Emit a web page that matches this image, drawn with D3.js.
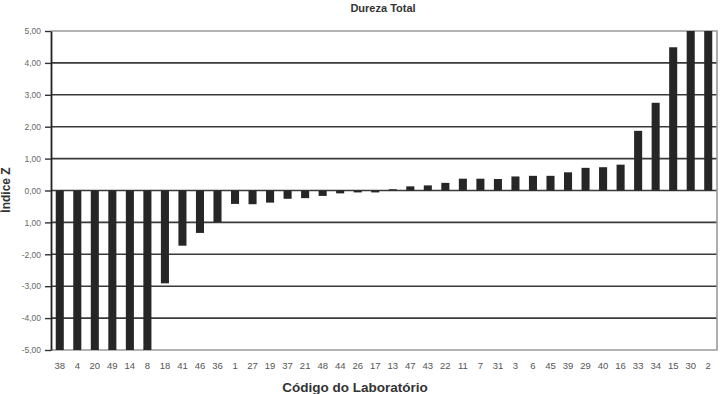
<!DOCTYPE html>
<html><head><meta charset="utf-8">
<script src="https://cdn.jsdelivr.net/npm/d3@7"></script>
<style>body{margin:0;background:#fff}svg{display:block}</style>
</head><body>
<svg id="c" width="720" height="394"></svg>
<script>
const labs = ["38","4","20","49","14","8","18","41","46","36","1","27","19","37","21","48","44","26","17","13","47","43","22","11","7","31","3","6","45","39","29","40","16","33","34","15","30","2"];
const zValues = [-5,-5,-5,-5,-5,-5,-2.91,-1.73,-1.33,-0.99,-0.42,-0.43,-0.38,-0.26,-0.24,-0.17,-0.09,-0.06,-0.06,0.04,0.13,0.16,0.24,0.37,0.37,0.36,0.44,0.46,0.46,0.57,0.71,0.73,0.81,1.87,2.75,4.49,5,5];
const yTickValues = [5,4,3,2,1,0,-1,-2,-3,-4,-5];
const yTickLabels = ["5,00","4,00","3,00","2,00","1,00","0,00","1,00","-2,00","-3,00","-4,00","-5,00"];
const title = "Dureza Total";
const xTitle = "Código do Laboratório";
const yTitle = "Índice Z";

const svg = d3.select("#c");
const L = 51, R = 717, T = 31, B = 350;
const x = d3.scaleBand().domain(labs).range([L, R]).paddingInner(0.54).paddingOuter(0.27);
const y = d3.scaleLinear().domain([-5, 5]).range([B, T]).clamp(true);

// gridlines
svg.append("g").selectAll("line").data(yTickValues.filter(v => v !== 5 && v !== -5)).join("line")
  .attr("x1", L).attr("x2", R).attr("y1", d => y(d)).attr("y2", d => y(d))
  .attr("stroke", "#3a3a3a").attr("stroke-width", 1.6);
// border top/right/bottom
svg.append("path")
  .attr("d", `M${L},${y(5)}H${R}V${y(-5)}H${L}`)
  .attr("fill", "none").attr("stroke", "#9a9a9a").attr("stroke-width", 1.6);

// bars
svg.append("g").selectAll("rect").data(zValues).join("rect")
  .attr("x", (d, i) => x(labs[i]))
  .attr("width", x.bandwidth())
  .attr("y", d => Math.min(y(d), y(0)))
  .attr("height", d => Math.abs(y(d) - y(0)))
  .attr("fill", "#262626");

// y axis
const yAxis = d3.axisLeft(y).tickValues(yTickValues)
  .tickFormat((d, i) => yTickLabels[i]).tickSize(6).tickSizeOuter(0);
const ga = svg.append("g").attr("transform", `translate(${L},0)`).call(yAxis);
ga.select(".domain").attr("stroke", "#222").attr("stroke-width", 1.8);
ga.selectAll(".tick line").attr("stroke", "#333").attr("stroke-width", 1.4);
ga.selectAll(".tick text").attr("fill", "#666").attr("font-family", "Liberation Sans, Arial, sans-serif")
  .attr("font-size", 8.5).attr("x", -10);

// x labels
const xAxis = d3.axisBottom(x).tickSize(0).tickSizeOuter(0);
const gx = svg.append("g").attr("transform", `translate(0,${B})`).call(xAxis);
gx.select(".domain").remove();
gx.selectAll(".tick text").attr("fill", "#555").attr("font-family", "Liberation Sans, Arial, sans-serif")
  .attr("font-size", 9.5).attr("dy", "0").attr("y", 19);

// titles
const ff = "Liberation Sans, Arial, sans-serif";
svg.append("text").attr("x", 383).attr("y", 12).attr("text-anchor", "middle")
  .attr("font-family", ff).attr("font-weight", "bold").attr("font-size", 11).attr("fill", "#333").text(title);
svg.append("text").attr("x", 355).attr("y", 392).attr("text-anchor", "middle")
  .attr("font-family", ff).attr("font-weight", "bold").attr("font-size", 13.5).attr("fill", "#333").text(xTitle);
svg.append("text").attr("transform", "translate(10,190) rotate(-90)").attr("text-anchor", "middle")
  .attr("font-family", ff).attr("font-weight", "bold").attr("font-size", 12).attr("fill", "#333").text(yTitle);
</script>
</body></html>
